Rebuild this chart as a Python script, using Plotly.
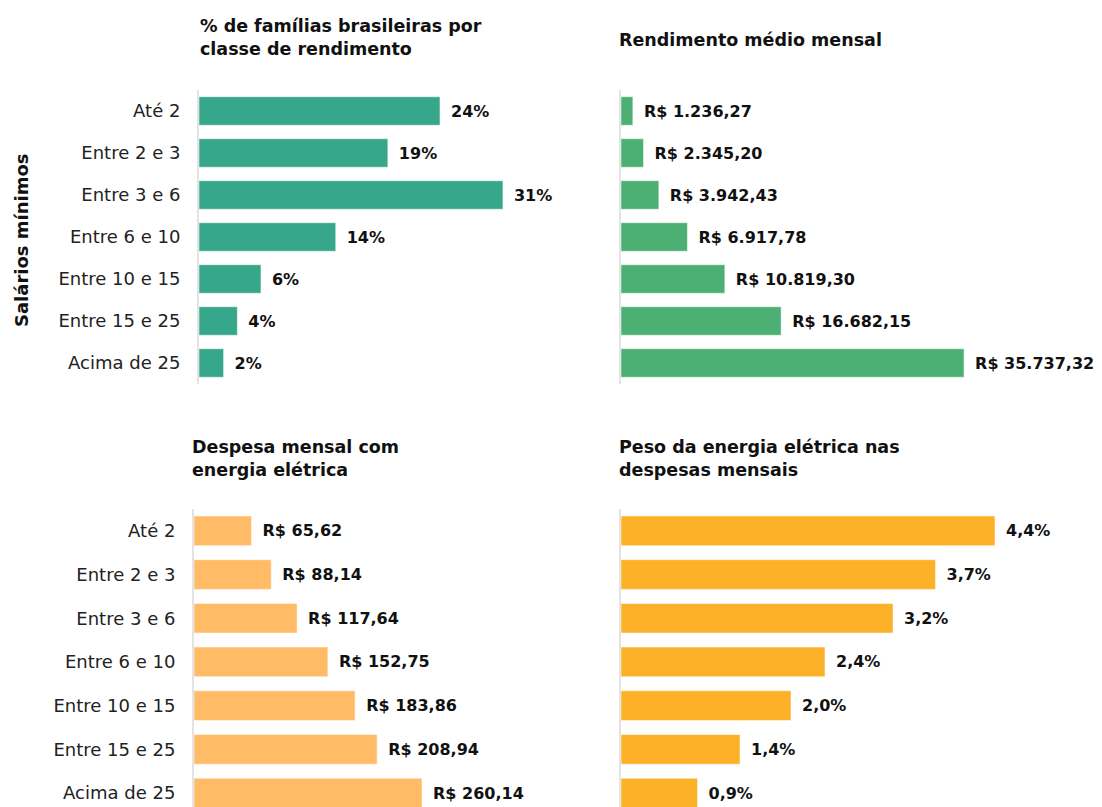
import plotly.graph_objects as go

W, H = 1102, 807
OFF = 8  # page body margin offset

categories = ["Até 2", "Entre 2 e 3", "Entre 3 e 6", "Entre 6 e 10",
              "Entre 10 e 15", "Entre 15 e 25", "Acima de 25"]

pct_familias = [24.5, 19.2, 30.9, 13.9, 6.3, 3.9, 2.5]
pct_familias_labels = ["24%", "19%", "31%", "14%", "6%", "4%", "2%"]

rendimento = [1236.27, 2345.20, 3942.43, 6917.78, 10819.30, 16682.15, 35737.32]
rendimento_labels = ["R$ 1.236,27", "R$ 2.345,20", "R$ 3.942,43", "R$ 6.917,78",
                     "R$ 10.819,30", "R$ 16.682,15", "R$ 35.737,32"]

despesa = [65.62, 88.14, 117.64, 152.75, 183.86, 208.94, 260.14]
despesa_labels = ["R$ 65,62", "R$ 88,14", "R$ 117,64", "R$ 152,75",
                  "R$ 183,86", "R$ 208,94", "R$ 260,14"]

peso = [4.4, 3.7, 3.2, 2.4, 2.0, 1.4, 0.9]
peso_labels = ["4,4%", "3,7%", "3,2%", "2,4%", "2,0%", "1,4%", "0,9%"]

titles = ["% de famílias brasileiras por<br>classe de rendimento",
          "Rendimento médio mensal",
          "Despesa mensal com<br>energia elétrica",
          "Peso da energia elétrica nas<br>despesas mensais"]

FONT = "DejaVu Sans, sans-serif"
C1, C2, C3, C4 = "#37a78b", "#4caf73", "#ffbb66", "#fdb128"

def px_x(p):
    return (p - OFF) / W

def px_y(p):
    return 1 - (p - OFF) / H

fig = go.Figure()

panels = [
    (pct_familias, pct_familias_labels, C1, (199, 560), (90, 384), 36.7, [6.5, -0.5], True),
    (rendimento, rendimento_labels, C2, (621, 1100), (90, 384), 49900, [6.5, -0.5], False),
    (despesa, despesa_labels, C3, (194, 560), (509, 807), 417.6, [6.32, -0.5], True),
    (peso, peso_labels, C4, (621, 1100), (509, 807), 5.635, [6.32, -0.5], False),
]

for i, (vals, labs, col, xd, yd, xmax, yr, showt) in enumerate(panels):
    n = "" if i == 0 else str(i + 1)
    fig.add_trace(go.Bar(
        x=vals, y=list(range(len(categories))), orientation="h",
        marker=dict(color=col, line=dict(color="rgba(255,255,255,0.5)", width=1)),
        text=["\u2002" + t for t in labs], textposition="outside",
        textfont=dict(family=FONT, size=16, color="#111", weight=700),
        cliponaxis=False, xaxis="x" + n, yaxis="y" + n, showlegend=False,
        hoverinfo="skip",
    ))
    fig.update_layout(**{
        "xaxis" + n: dict(domain=[px_x(xd[0]), px_x(xd[1])], range=[0, xmax],
                          showgrid=False, zeroline=False, showticklabels=False,
                          showline=False, anchor="y" + n, fixedrange=True),
        "yaxis" + n: dict(domain=[px_y(yd[1]), px_y(yd[0])], range=yr,
                          tickmode="array", tickvals=list(range(len(categories))),
                          ticktext=categories, showticklabels=showt,
                          ticks="outside" if showt else "", ticklen=13,
                          tickcolor="rgba(0,0,0,0)",
                          tickfont=dict(family=FONT, size=18, color="#222"),
                          showgrid=False, zeroline=False, showline=True,
                          linecolor="#e3e3e3", linewidth=2,
                          anchor="x" + n, fixedrange=True),
    })

fig.update_layout(bargap=0.32)

title_pos = [(198, 14), (617, 28), (190, 435), (617, 435)]
for t, (x, y) in zip(titles, title_pos):
    fig.add_annotation(text=t, x=px_x(x), y=px_y(y), xref="paper", yref="paper",
                       xanchor="left", yanchor="top", align="left", showarrow=False,
                       font=dict(family=FONT, size=17.5, color="#111", weight=700))

fig.add_annotation(text="Salários mínimos", x=px_x(22), y=px_y(240),
                   xref="paper", yref="paper", xanchor="center", yanchor="middle",
                   textangle=-90, showarrow=False,
                   font=dict(family=FONT, size=18, color="#111", weight=700))

fig.update_layout(width=W, height=H, margin=dict(l=0, r=0, t=0, b=0),
                  plot_bgcolor="white", paper_bgcolor="white")

fig.write_html("out.html")
